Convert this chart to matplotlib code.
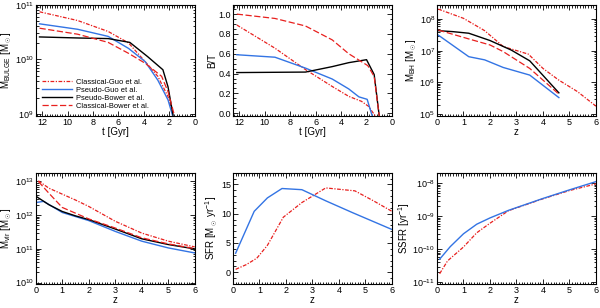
import numpy as np
import matplotlib
matplotlib.use("Agg")
import matplotlib.pyplot as plt
from matplotlib.ticker import MultipleLocator, LogLocator, NullFormatter, FormatStrFormatter

plt.rcParams['font.family'] = ['Liberation Sans', 'DejaVu Sans']
plt.rcParams['mathtext.fontset'] = 'custom'
plt.rcParams['mathtext.rm'] = 'Liberation Sans'
plt.rcParams['mathtext.it'] = 'Liberation Sans'

# ---- data (log10 values for log axes) ----
# panel 1: bulge mass vs lookback time
t1_cg = [12.2, 9.2, 6.8, 5.2, 3.9, 2.9, 2.1, 1.7]
m1_cg = [10.87, 10.71, 10.51, 10.30, 9.96, 9.69, 9.32, 8.98]
t1_pg = [12.2, 9.2, 6.8, 5.2, 3.9, 2.9, 2.1, 1.75]
m1_pg = [10.65, 10.55, 10.42, 10.20, 9.96, 9.62, 9.26, 8.98]
t1_pb = [12.2, 9.0, 6.8, 5.1, 3.7, 2.5, 2.1, 1.7]
m1_pb = [10.41, 10.39, 10.38, 10.31, 10.05, 9.81, 9.50, 8.98]
t1_cb = [12.2, 9.2, 6.8, 5.2, 3.9, 2.6, 2.1, 1.6]
m1_cb = [10.57, 10.46, 10.31, 10.11, 9.93, 9.69, 9.41, 8.98]

# panel 2: B/T vs lookback time
t2_cb = [12.2, 9.2, 6.8, 4.7, 3.4, 2.4, 1.9, 1.4, 1.0]
bt_cb = [1.0, 0.956, 0.88, 0.74, 0.60, 0.52, 0.48, 0.37, -0.03]
t2_cg = [12.2, 9.2, 6.8, 4.7, 3.4, 2.4, 1.85, 1.3]
bt_cg = [0.89, 0.656, 0.44, 0.27, 0.17, 0.12, 0.07, -0.03]
t2_pg = [12.2, 9.2, 6.8, 4.7, 3.4, 2.6, 1.95, 1.55]
bt_pg = [0.59, 0.565, 0.455, 0.345, 0.245, 0.165, 0.14, -0.03]
t2_pb = [12.2, 6.8, 4.7, 3.4, 2.0, 1.4, 1.0]
bt_pb = [0.41, 0.415, 0.47, 0.51, 0.54, 0.39, -0.03]

# panel 3: black hole mass vs z
z3_cg = [0.05, 1.0, 1.8, 2.5, 3.45, 4.0, 4.6, 5.3, 6.0]
bh_cg = [8.31, 8.02, 7.63, 7.13, 6.89, 6.44, 6.07, 5.71, 5.25]
z3_pb = [0.05, 0.6, 1.2, 2.0, 2.8, 3.5, 4.6]
bh_pb = [7.63, 7.60, 7.55, 7.32, 7.02, 6.68, 5.67]
z3_cb = [0.05, 1.2, 2.0, 2.5, 3.5, 4.6]
bh_cb = [7.65, 7.37, 7.18, 6.97, 6.44, 5.63]
z3_pg = [0.05, 1.2, 1.8, 2.5, 3.5, 4.6]
bh_pg = [7.49, 6.81, 6.71, 6.47, 6.23, 5.52]

# panel 4: virial mass vs z
z4_cg = [0.1, 0.5, 1.5, 2.0, 3.0, 4.0, 5.0, 6.0]
mv_cg = [13.02, 12.80, 12.45, 12.26, 11.82, 11.47, 11.23, 11.06]
z4_cb = [0.1, 0.5, 1.0, 1.5, 2.0, 3.0, 4.0, 5.0, 6.0]
mv_cb = [13.0, 12.65, 12.23, 12.06, 11.89, 11.62, 11.33, 11.15, 11.01]
z4_pb = [0.05, 0.5, 1.0, 1.5, 2.0, 3.0, 4.0, 5.0, 6.0]
mv_pb = [12.54, 12.31, 12.11, 11.98, 11.87, 11.59, 11.30, 11.13, 11.0]
z4_pg = [0.05, 0.3, 1.0, 2.0, 3.0, 4.0, 5.0, 6.0]
mv_pg = [12.38, 12.41, 12.08, 11.84, 11.52, 11.23, 11.03, 10.88]

# panel 5: SFR vs z
z5_pg = [0.1, 0.8, 1.3, 1.85, 2.6, 3.5, 4.5, 6.0]
sfr_pg = [3.25, 10.4, 12.7, 14.3, 14.1, 12.2, 10.2, 7.3]
z5_cg = [0.1, 0.5, 0.9, 1.3, 1.9, 2.6, 3.5, 4.6, 5.3, 6.0]
sfr_cg = [0.5, 1.3, 2.4, 4.6, 9.4, 11.9, 14.4, 13.9, 12.2, 10.4]

# panel 6: SSFR vs z
z6_pg = [0.1, 0.5, 1.0, 1.5, 2.0, 2.7, 4.0, 5.0, 6.0]
ssfr_pg = [-10.3, -9.92, -9.53, -9.24, -9.05, -8.82, -8.46, -8.2, -7.95]
z6_cg = [0.1, 0.4, 1.0, 1.5, 2.0, 2.7, 4.0, 5.0, 6.0]
ssfr_cg = [-10.74, -10.35, -9.93, -9.5, -9.21, -8.83, -8.47, -8.22, -8.02]

labels = ['Classical-Guo et al.', 'Pseudo-Guo et al.',
          'Pseudo-Bower et al.', 'Classical-Bower et al.']

RED = '#e8201e'
BLUE = '#3374e4'
st_cg = dict(color=RED, lw=0.9, ls=(0, (3, 1.2, 1, 1.2)))
st_pg = dict(color=BLUE, lw=1.0, ls='-')
st_pb = dict(color='black', lw=1.0, ls='-')
st_cb = dict(color=RED, lw=0.9, ls=(0, (5, 2)))

fig = plt.figure(figsize=(6.0, 3.08), dpi=100)
lefts = [0.0595, 0.3883, 0.7283]
w = 0.265
top_b, top_h = 0.6244, 0.3604
bot_b, bot_h = 0.0780, 0.3613
axs = [fig.add_axes([l, top_b, w, top_h]) for l in lefts] + \
      [fig.add_axes([l, bot_b, w, bot_h]) for l in lefts]


def style(ax, xlabel, ylabel):
    ax.tick_params(which='both', direction='in', top=True, right=True,
                   labelsize=6.5, width=0.6, pad=1.5)
    ax.tick_params(which='major', length=3.5)
    ax.tick_params(which='minor', length=1.8)
    for s in ax.spines.values():
        s.set_linewidth(0.8)
    ax.set_xlabel(xlabel, fontsize=7, labelpad=0)
    ax.set_ylabel(ylabel, fontsize=7, labelpad=0.5)


def logy(ax, lo, hi):
    ax.set_yscale('log')
    ax.set_ylim(lo, hi)
    ax.yaxis.set_major_locator(LogLocator(base=10, numticks=20))
    ax.yaxis.set_minor_locator(LogLocator(base=10, subs=np.arange(2, 10), numticks=20))
    ax.yaxis.set_minor_formatter(NullFormatter())


def zaxis(ax):
    ax.set_xlim(0, 6)
    ax.xaxis.set_major_locator(MultipleLocator(1))
    ax.xaxis.set_minor_locator(MultipleLocator(0.1))


def taxis(ax):
    ax.set_xlim(12.5, 0)
    ax.xaxis.set_major_locator(MultipleLocator(2))
    ax.xaxis.set_minor_locator(MultipleLocator(0.2))


# panel 1
ax = axs[0]
ax.plot(t1_cg, 10**np.array(m1_cg), label=labels[0], **st_cg)
ax.plot(t1_pg, 10**np.array(m1_pg), label=labels[1], **st_pg)
ax.plot(t1_pb, 10**np.array(m1_pb), label=labels[2], **st_pb)
ax.plot(t1_cb, 10**np.array(m1_cb), label=labels[3], **st_cb)
taxis(ax)
logy(ax, 10**8.97, 1e11)
style(ax, 't [Gyr]', r'M$_{\rm BULGE}$ [M$_\odot$]')
ax.legend(loc='lower left', frameon=False, fontsize=5.4, handlelength=4.0,
          handletextpad=0.6, labelspacing=0.1, borderaxespad=0.0,
          borderpad=0.2, bbox_to_anchor=(0.03, 0.04))

# panel 2
ax = axs[1]
ax.plot(t2_cg, bt_cg, **st_cg)
ax.plot(t2_pg, bt_pg, **st_pg)
ax.plot(t2_pb, bt_pb, **st_pb)
ax.plot(t2_cb, bt_cb, **st_cb)
taxis(ax)
ax.set_ylim(-0.025, 1.095)
ax.yaxis.set_major_locator(MultipleLocator(0.2))
ax.yaxis.set_minor_locator(MultipleLocator(0.05))
ax.yaxis.set_major_formatter(FormatStrFormatter('%.1f'))
style(ax, 't [Gyr]', 'B/T')

# panel 3
ax = axs[2]
ax.plot(z3_cg, 10**np.array(bh_cg), **st_cg)
ax.plot(z3_pg, 10**np.array(bh_pg), **st_pg)
ax.plot(z3_pb, 10**np.array(bh_pb), **st_pb)
ax.plot(z3_cb, 10**np.array(bh_cb), **st_cb)
zaxis(ax)
logy(ax, 10**4.95, 10**8.45)
style(ax, 'z', r'M$_{\rm BH}$ [M$_\odot$]')

# panel 4
ax = axs[3]
ax.plot(z4_cg, 10**np.array(mv_cg), **st_cg)
ax.plot(z4_pg, 10**np.array(mv_pg), **st_pg)
ax.plot(z4_pb, 10**np.array(mv_pb), **st_pb)
ax.plot(z4_cb, 10**np.array(mv_cb), **st_cb)
zaxis(ax)
logy(ax, 10**9.96, 10**13.26)
style(ax, 'z', r'M$_{\rm vir}$ [M$_\odot$]')

# panel 5
ax = axs[4]
ax.plot(z5_cg, sfr_cg, **st_cg)
ax.plot(z5_pg, sfr_pg, **st_pg)
zaxis(ax)
ax.set_ylim(-2, 17)
ax.yaxis.set_major_locator(MultipleLocator(5))
ax.yaxis.set_minor_locator(MultipleLocator(1))
style(ax, 'z', r'SFR [M$_\odot$ yr$^{-1}$]')

# panel 6
ax = axs[5]
ax.plot(z6_cg, 10**np.array(ssfr_cg), **st_cg)
ax.plot(z6_pg, 10**np.array(ssfr_pg), **st_pg)
zaxis(ax)
logy(ax, 10**-11.05, 10**-7.68)
style(ax, 'z', r'SSFR [yr$^{-1}$]')

fig.savefig('out.png', dpi=100)
